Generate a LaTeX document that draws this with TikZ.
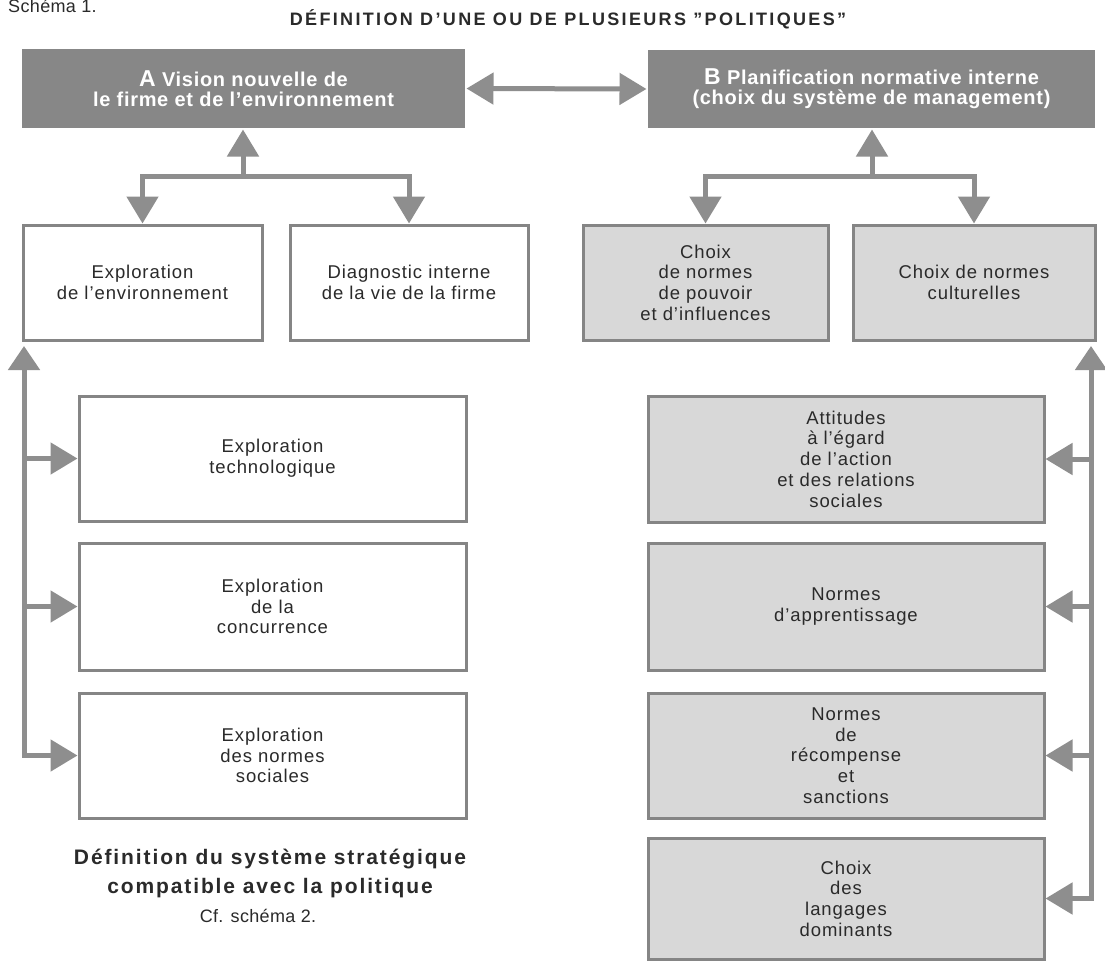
\documentclass[tikz,border=0pt]{standalone}
\usepackage{fontspec}
\setmainfont{Liberation Sans}
\usetikzlibrary{arrows.meta,calc}
\definecolor{hdr}{HTML}{878787}
\definecolor{lite}{HTML}{D8D8D8}
\definecolor{edge}{HTML}{858585}
\definecolor{arrc}{HTML}{8E8E8E}
\definecolor{ink}{HTML}{2A2A2A}
\begin{document}
\begin{tikzpicture}[x=1pt,y=-1pt,
  hbox/.style={fill=hdr, inner sep=0pt, outer sep=0pt, anchor=north west, align=center, text=white,
    font=\fontsize{20}{20}\selectfont\bfseries\addfontfeatures{LetterSpace=3.5}},
  wbox/.style={draw=edge, line width=3pt, fill=white, inner sep=0pt, outer sep=0pt, anchor=north west,
    align=center, text=ink, font=\fontsize{18.5}{20.7}\selectfont\addfontfeatures{LetterSpace=5}},
  gbox/.style={wbox, fill=lite},
  conn/.style={draw=arrc, line width=5pt, -{Triangle[length=27pt,width=31pt]}, shorten >=1.5pt},
  dconn/.style={draw=arrc, line width=5pt, {Triangle[length=27pt,width=31pt]}-{Triangle[length=27pt,width=31pt]}, shorten >=1.5pt},
  lbl/.style={text=ink, inner sep=0pt}
]
\useasboundingbox (0,0) rectangle (1105,962);
\fill[white] (0,0) rectangle (1105,962);

% titles
\node[lbl, anchor=base west, font=\fontsize{18}{20}\selectfont\addfontfeatures{LetterSpace=2}] (sch) at (8,12) {Schéma 1.};
\node[lbl, anchor=base, font=\fontsize{18}{20}\selectfont\bfseries\addfontfeatures{LetterSpace=13}] (title) at (568,25) {DÉFINITION D’UNE OU DE PLUSIEURS ''POLITIQUES''};

% header boxes
\node[hbox, minimum width=443pt, minimum height=79pt] (A) at (22,49)
  {{\fontsize{23}{20}\selectfont A} Vision nouvelle de\\le firme et de l’environnement};
\node[hbox, minimum width=447pt, minimum height=78pt] (B) at (648,50)
  {{\fontsize{23}{20}\selectfont B} Planification normative interne\\(choix du système de management)};

% second row
\node[wbox, minimum width=239pt, minimum height=115pt] (env) at (23,225) {Exploration\\de l’environnement};
\node[wbox, minimum width=238pt, minimum height=115pt] (diag) at (290,225) {Diagnostic interne\\de la vie de la firme};
\node[gbox, minimum width=245pt, minimum height=115pt] (pouv) at (583,225) {Choix\\de normes\\de pouvoir\\et d’influences};
\node[gbox, minimum width=242pt, minimum height=115pt] (cult) at (853,225) {Choix de normes\\culturelles};

% left column
\node[wbox, minimum width=387pt, minimum height=125pt] (tech) at (79,396) {Exploration\\technologique};
\node[wbox, minimum width=387pt, minimum height=127pt] (conc) at (79,543) {Exploration\\de la\\concurrence};
\node[wbox, minimum width=387pt, minimum height=125pt] (soc) at (79,693) {Exploration\\des normes\\sociales};

% right column
\node[gbox, minimum width=396pt, minimum height=126pt] (att) at (648,396) {Attitudes\\à l’égard\\de l’action\\et des relations\\sociales};
\node[gbox, minimum width=396pt, minimum height=127pt] (app) at (648,543) {Normes\\d’apprentissage};
\node[gbox, minimum width=396pt, minimum height=125pt] (rec) at (648,693) {Normes\\de\\récompense\\et\\sanctions};
\node[gbox, minimum width=396pt, minimum height=121pt] (lang) at (648,838) {Choix\\des\\langages\\dominants};

% bottom texts
\node[lbl, anchor=north, align=center, font=\fontsize{21}{29}\selectfont\bfseries\addfontfeatures{LetterSpace=9}] (def) at (270,849)
  {Définition du système stratégique\\compatible avec la politique};
\node[lbl, anchor=base, font=\fontsize{18}{20}\selectfont\addfontfeatures{LetterSpace=2}] (cf) at (258,922) {Cf. schéma 2.};

% connectors
\draw[dconn, shorten <=1.5pt] (A.east) -- (B.west);

\coordinate (jA) at (243,176);
\draw[conn] (jA) -- (jA |- A.south);
\draw[conn] (jA) -| (env.north);
\draw[conn] (jA) -| (diag.north);

\coordinate (jB) at (872,176);
\draw[conn] (jB) -- (jB |- B.south);
\draw[conn] (jB) -| (pouv.north);
\draw[conn] (jB) -| (cult.north);

\coordinate (ltip) at ($(env.south west)+(1,6)$);
\draw[dconn, shorten <=0pt, {Triangle[length=24pt,width=31pt]}-{Triangle[length=27pt,width=31pt]}] (ltip) |- (soc.west);
\draw[conn] (tech.west -| ltip) -- (tech.west);
\draw[conn] (conc.west -| ltip) -- (conc.west);

\coordinate (rtip) at ($(cult.south east)+(-4,6)$);
\draw[dconn, shorten <=0pt, {Triangle[length=24pt,width=31pt]}-{Triangle[length=27pt,width=31pt]}] (rtip) |- (lang.east);
\draw[conn] (att.east -| rtip) -- (att.east);
\draw[conn] (app.east -| rtip) -- (app.east);
\draw[conn] (rec.east -| rtip) -- (rec.east);
\end{tikzpicture}
\end{document}
